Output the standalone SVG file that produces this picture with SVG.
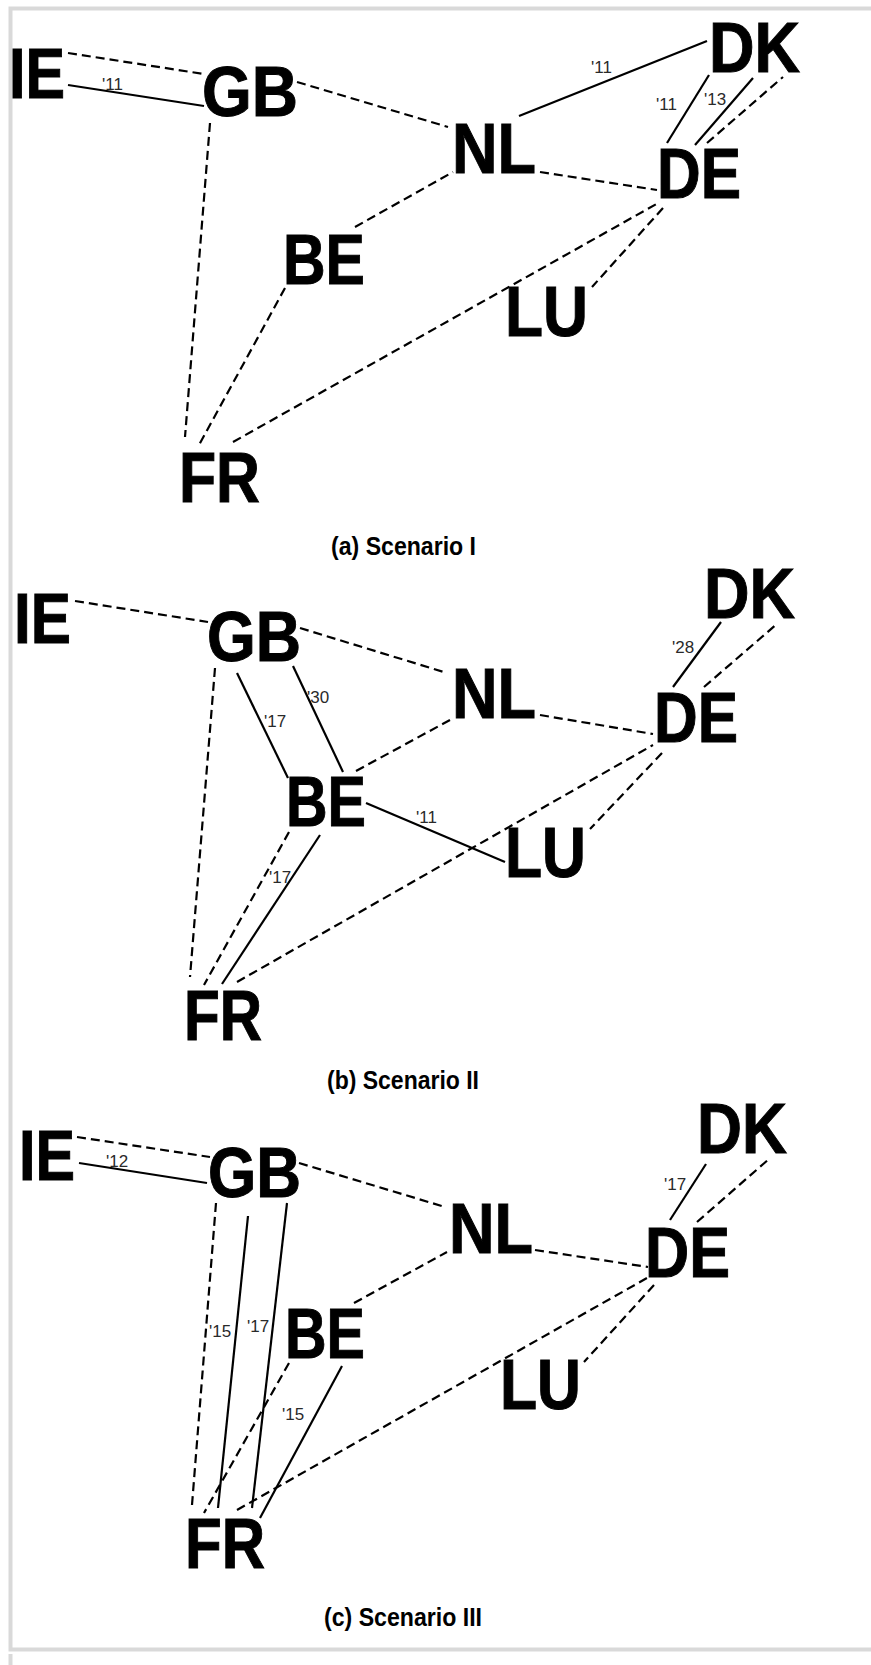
<svg xmlns="http://www.w3.org/2000/svg" width="871" height="1665" viewBox="0 0 871 1665">
<style>
.frame{stroke:#d9d9d9;stroke-width:4;fill:none}
.node{font-family:"Liberation Sans",Arial,sans-serif;font-weight:bold;font-size:70px;fill:#000;stroke:#000;stroke-width:1}
.cap{font-family:"Liberation Sans",Arial,sans-serif;font-weight:bold;font-size:25px;fill:#000}
.lbl{font-family:"Liberation Sans",Arial,sans-serif;font-size:17px;fill:#2a2a2a}
.d{stroke:#000;stroke-width:2.2;stroke-dasharray:9 5;fill:none}
.s{stroke:#000;stroke-width:2.2;fill:none}
</style>
<rect width="871" height="1665" fill="#fff"/>
<g id="frame">
<path class="frame" d="M871 8.5H10.5V1649.5H871M10.5 1654V1665"/>
</g>
<g id="connectors">
<line class="d" x1="68" y1="53" x2="204" y2="74"/>
<line class="s" x1="68" y1="85" x2="204" y2="106"/>
<line class="d" x1="297" y1="82" x2="448" y2="127"/>
<line class="d" x1="210" y1="123" x2="185" y2="437"/>
<line class="d" x1="285" y1="288" x2="199" y2="445"/>
<line class="d" x1="355" y1="227" x2="453" y2="172"/>
<line class="d" x1="233" y1="442" x2="660" y2="202"/>
<line class="d" x1="540" y1="172" x2="657" y2="190"/>
<line class="s" x1="519" y1="116" x2="707" y2="41"/>
<line class="s" x1="667" y1="143" x2="709" y2="75"/>
<line class="s" x1="695" y1="145" x2="753" y2="78"/>
<line class="d" x1="707" y1="143" x2="783" y2="77"/>
<line class="d" x1="663" y1="208" x2="592" y2="287"/>
<line class="d" x1="75" y1="601" x2="208" y2="622"/>
<line class="d" x1="300" y1="628" x2="447" y2="673"/>
<line class="d" x1="215" y1="668" x2="190" y2="977"/>
<line class="s" x1="237" y1="673" x2="288" y2="778"/>
<line class="s" x1="293" y1="666" x2="343" y2="772"/>
<line class="d" x1="356" y1="771" x2="450" y2="720"/>
<line class="s" x1="366" y1="803" x2="505" y2="862"/>
<line class="d" x1="289" y1="832" x2="204" y2="985"/>
<line class="s" x1="320" y1="835" x2="222" y2="984"/>
<line class="d" x1="237" y1="982" x2="653" y2="745"/>
<line class="d" x1="540" y1="715" x2="653" y2="734"/>
<line class="d" x1="662" y1="753" x2="590" y2="829"/>
<line class="s" x1="673" y1="687" x2="721" y2="622"/>
<line class="d" x1="704" y1="687" x2="778" y2="623"/>
<line class="d" x1="77" y1="1137" x2="210" y2="1157"/>
<line class="s" x1="79" y1="1163" x2="207" y2="1183"/>
<line class="d" x1="299" y1="1163" x2="445" y2="1207"/>
<line class="d" x1="216" y1="1203" x2="192" y2="1505"/>
<line class="s" x1="248" y1="1216" x2="218" y2="1508"/>
<line class="s" x1="287" y1="1203" x2="252" y2="1508"/>
<line class="d" x1="354" y1="1303" x2="447" y2="1252"/>
<line class="d" x1="289" y1="1363" x2="204" y2="1513"/>
<line class="s" x1="342" y1="1366" x2="260" y2="1518"/>
<line class="d" x1="237" y1="1510" x2="647" y2="1278"/>
<line class="d" x1="535" y1="1250" x2="648" y2="1267"/>
<line class="d" x1="654" y1="1285" x2="584" y2="1362"/>
<line class="s" x1="670" y1="1220" x2="706" y2="1164"/>
<line class="d" x1="697" y1="1222" x2="769" y2="1159"/>
</g>
<g id="edge-labels">
<text class="lbl" x="102" y="90">'11</text>
<text class="lbl" x="591" y="73">'11</text>
<text class="lbl" x="656" y="110">'11</text>
<text class="lbl" x="704" y="105">'13</text>
<text class="lbl" x="264" y="727">'17</text>
<text class="lbl" x="307" y="703">'30</text>
<text class="lbl" x="416" y="823">'11</text>
<text class="lbl" x="269" y="883">'17</text>
<text class="lbl" x="672" y="653">'28</text>
<text class="lbl" x="106" y="1167">'12</text>
<text class="lbl" x="209" y="1337">'15</text>
<text class="lbl" x="247" y="1332">'17</text>
<text class="lbl" x="282" y="1420">'15</text>
<text class="lbl" x="664" y="1190">'17</text>
</g>
<g id="a-IE"><text class="node" x="9" y="98" textLength="56" lengthAdjust="spacingAndGlyphs">IE</text></g>
<g id="a-GB"><text class="node" x="202" y="116" textLength="96" lengthAdjust="spacingAndGlyphs">GB</text></g>
<g id="a-BE"><text class="node" x="283" y="284" textLength="82" lengthAdjust="spacingAndGlyphs">BE</text></g>
<g id="a-DK"><text class="node" x="709" y="72" textLength="91" lengthAdjust="spacingAndGlyphs">DK</text></g>
<g id="a-NL"><text class="node" x="452" y="173" textLength="84" lengthAdjust="spacingAndGlyphs">NL</text></g>
<g id="a-DE"><text class="node" x="657" y="198" textLength="84" lengthAdjust="spacingAndGlyphs">DE</text></g>
<g id="a-LU"><text class="node" x="505" y="336" textLength="83" lengthAdjust="spacingAndGlyphs">LU</text></g>
<g id="a-FR"><text class="node" x="179" y="502" textLength="81" lengthAdjust="spacingAndGlyphs">FR</text></g>
<g id="a-caption"><text class="cap" x="331" y="555" textLength="145" lengthAdjust="spacingAndGlyphs">(a) Scenario I</text></g>
<g id="b-IE"><text class="node" x="14" y="643" textLength="57" lengthAdjust="spacingAndGlyphs">IE</text></g>
<g id="b-GB"><text class="node" x="207" y="661" textLength="94" lengthAdjust="spacingAndGlyphs">GB</text></g>
<g id="b-BE"><text class="node" x="286" y="826" textLength="80" lengthAdjust="spacingAndGlyphs">BE</text></g>
<g id="b-DK"><text class="node" x="704" y="618" textLength="91" lengthAdjust="spacingAndGlyphs">DK</text></g>
<g id="b-NL"><text class="node" x="452" y="718" textLength="84" lengthAdjust="spacingAndGlyphs">NL</text></g>
<g id="b-DE"><text class="node" x="654" y="742" textLength="84" lengthAdjust="spacingAndGlyphs">DE</text></g>
<g id="b-LU"><text class="node" x="505" y="877" textLength="81" lengthAdjust="spacingAndGlyphs">LU</text></g>
<g id="b-FR"><text class="node" x="184" y="1040" textLength="78" lengthAdjust="spacingAndGlyphs">FR</text></g>
<g id="b-caption"><text class="cap" x="327" y="1089" textLength="152" lengthAdjust="spacingAndGlyphs">(b) Scenario II</text></g>
<g id="c-IE"><text class="node" x="19" y="1180" textLength="56" lengthAdjust="spacingAndGlyphs">IE</text></g>
<g id="c-GB"><text class="node" x="208" y="1197" textLength="93" lengthAdjust="spacingAndGlyphs">GB</text></g>
<g id="c-BE"><text class="node" x="285" y="1358" textLength="80" lengthAdjust="spacingAndGlyphs">BE</text></g>
<g id="c-DK"><text class="node" x="697" y="1153" textLength="90" lengthAdjust="spacingAndGlyphs">DK</text></g>
<g id="c-NL"><text class="node" x="449" y="1253" textLength="84" lengthAdjust="spacingAndGlyphs">NL</text></g>
<g id="c-DE"><text class="node" x="645" y="1277" textLength="85" lengthAdjust="spacingAndGlyphs">DE</text></g>
<g id="c-LU"><text class="node" x="500" y="1409" textLength="81" lengthAdjust="spacingAndGlyphs">LU</text></g>
<g id="c-FR"><text class="node" x="185" y="1568" textLength="80" lengthAdjust="spacingAndGlyphs">FR</text></g>
<g id="c-caption"><text class="cap" x="324" y="1626" textLength="158" lengthAdjust="spacingAndGlyphs">(c) Scenario III</text></g>
</svg>
